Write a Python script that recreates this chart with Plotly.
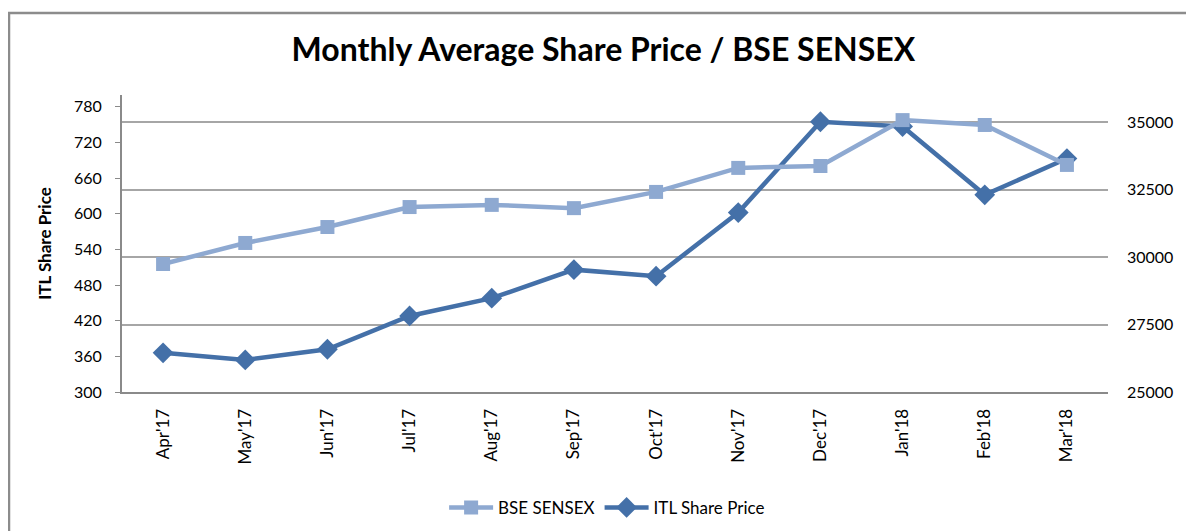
import plotly.graph_objects as go

months = ["Apr'17", "May'17", "Jun'17", "Jul'17", "Aug'17", "Sep'17",
          "Oct'17", "Nov'17", "Dec'17", "Jan'18", "Feb'18", "Mar'18"]
bse_sensex = [29740, 30520, 31110, 31850, 31930, 31810,
              32410, 33300, 33370, 35070, 34890, 33410]
itl_price = [366, 354, 372, 428, 458, 506, 495, 602, 755, 747, 632, 693]

left_ticks = [300, 360, 420, 480, 540, 600, 660, 720, 780]
right_ticks = [25000, 27500, 30000, 32500, 35000]

FONT = "Lato"
fig = go.Figure()

fig.add_trace(go.Scatter(
    x=months, y=bse_sensex, name="BSE SENSEX", yaxis="y2",
    mode="lines+markers",
    line=dict(color="#8EA9D1", width=4.5),
    marker=dict(symbol="square", size=14, color="#8EA9D1"),
))
fig.add_trace(go.Scatter(
    x=months, y=itl_price, name="ITL Share Price",
    mode="lines+markers",
    line=dict(color="#4470A8", width=4.5),
    marker=dict(symbol="diamond", size=16, color="#4470A8"),
))

# the page body adds 8px around the figure, so the figure is sized to fit
fig.update_layout(
    width=1186, height=523,
    margin=dict(l=114, r=86, t=87, b=139, autoexpand=False),
    paper_bgcolor="white", plot_bgcolor="white",
    font=dict(family=FONT, size=16, color="black"),
    title=dict(text="<b>Monthly Average Share Price / BSE SENSEX</b>",
               x=0.502, xanchor="center", y=0.92, yanchor="middle",
               font=dict(family=FONT, size=32, color="black")),
    xaxis=dict(type="category", range=[-0.5, 11.5], tickangle=-90,
               showgrid=False, showline=True, linecolor="#8A8A8A", linewidth=2,
               ticks="", ticklabelstandoff=8, automargin=False,
               tickfont=dict(size=17)),
    yaxis=dict(range=[300, 800], tickvals=left_ticks, showgrid=False,
               showline=True, linecolor="#8A8A8A", linewidth=2,
               ticks="outside", ticklen=5, tickcolor="#8A8A8A",
               ticklabelstandoff=10,
               zeroline=False, tickfont=dict(size=16), automargin=False,
               title=dict(text="<b>ITL Share Price</b>", standoff=18,
                          font=dict(size=17))),
    yaxis2=dict(range=[25000, 36000], tickvals=right_ticks,
                ticktext=[str(t) for t in right_ticks], overlaying="y",
                side="right", showgrid=True, gridcolor="#A6A6A6", gridwidth=1.5,
                showline=False, ticks="", ticklabelstandoff=18, zeroline=False,
                automargin=False, tickfont=dict(size=16)),
    legend=dict(orientation="h", x=0.492, xanchor="center", y=-0.39,
                yanchor="middle", font=dict(size=17), itemwidth=44,
                traceorder="normal"),
    showlegend=True,
    shapes=[dict(type="rect", xref="paper", yref="paper",
                 x0=-0.1146, x1=1.3, y0=-0.6, y1=1.276,
                 line=dict(color="#8C8C8C", width=2.5), layer="below")],
)

fig.write_html("out.html")
